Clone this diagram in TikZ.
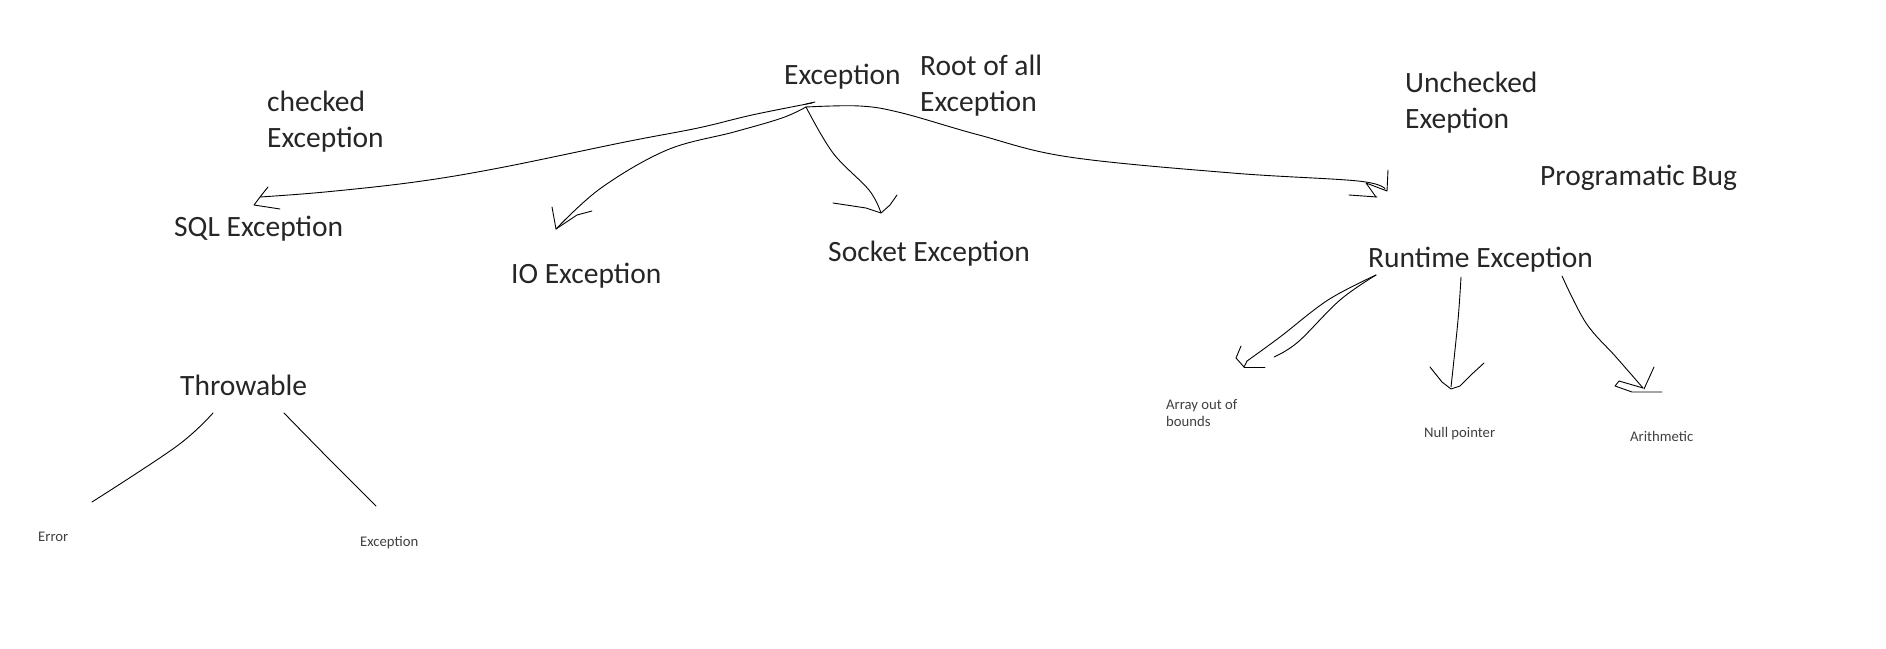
\documentclass[tikz,border=0pt]{standalone}
\usepackage{fontspec}
\setmainfont{Carlito}
\begin{document}
\begin{tikzpicture}[x=1pt,y=-1pt,
  big/.style={inner sep=0pt, anchor=base west, font=\fontsize{29.5}{36}\selectfont, text=black!85},
  small/.style={inner sep=0pt, anchor=base west, font=\fontsize{14.7}{17}\selectfont, text=black!75},
  hand/.style={line width=0.9pt, line cap=round, line join=round}]
\useasboundingbox[fill=white] (0,0) rectangle (1886,648);
% texts (multi-line nodes: base = last line)
\node[big] (exc) at (784,84) {Exception};
\node[big,align=left] (root) at (920,111) {Root of all\\Exception};
\node[big,align=left] (checked) at (267,147) {checked\\Exception};
\node[big,align=left] (unchecked) at (1405,128) {Unchecked\\Exeption};
\node[big] (bug) at (1540,185) {Programatic Bug};
\node[big] (sql) at (174,236) {SQL Exception};
\node[big] (io) at (511,283) {IO Exception};
\node[big] (socket) at (828,261) {Socket Exception};
\node[big] (runtime) at (1368,267) {Runtime Exception};
\node[big] (throw) at (180,395) {Throwable};
\node[small] (error) at (38,541) {Error};
\node[small] (exc2) at (360,546) {Exception};
\node[small,align=left] (array) at (1166,426) {Array out of\\bounds};
\node[small] (null) at (1424,437) {Null pointer};
\node[small] (arith) at (1630,441) {Arithmetic};
% connector ends
\coordinate (e0) at (806,107);
\coordinate (e1) at (812,103);
\coordinate (sqltip) at (260,197);
\coordinate (iotip) at (556,229);
\coordinate (socktip) at (881,213);
\coordinate (rttip) at (1385,189);
\coordinate (r1) at (1376,275);
\coordinate (arrtip) at (1247,361);
\coordinate (arrtip2) at (1274,357);
\coordinate (r2) at (1461,277);
\coordinate (nulltip) at (1451,387);
\coordinate (r3) at (1562,276);
\coordinate (arithtip) at (1643,388);
\coordinate (t1) at (213,413);
\coordinate (errtip) at (92,502);
\coordinate (t2) at (284,413);
\coordinate (exctip) at (376,506);
% Exception -> SQL
\draw[hand] plot[smooth,tension=0.6] coordinates {(e1) (752,115) (698,128) (625,142) (499,168) (415,182) (325,192) (sqltip)};
\draw[hand] (268,187) -- (sqltip) -- (254,205) -- (280,209);
\draw[hand] (806,104) -- (815,102);
% Exception -> IO
\draw[hand] plot[smooth,tension=0.6] coordinates {(e0) (782,118) (734,132) (667,150) (601,188) (iotip)};
\draw[hand] (552,207) -- (iotip) -- (577,215) -- (592,211);
% Exception -> Socket
\draw[hand] plot[smooth,tension=0.6] coordinates {(e0) (833,153) (869,190) (socktip)};
\draw[hand] (833,203) -- (866,208) -- (socktip) -- (890,205) -- (897,195);
% Exception -> Runtime (unchecked)
\draw[hand] plot[smooth,tension=0.6] coordinates {(e0) (860,106) (902,113) (979,135) (1069,157) (1232,173) (1358,181) (rttip)};
\draw[hand] (1388,170) -- (1387,191) -- (1366,183) -- (1376,197);
\draw[hand] (1349,195) -- (1377,197);
% Runtime -> Array
\draw[hand] plot[smooth,tension=0.6] coordinates {(r1) (1328,300) (1280,337) (arrtip)};
\draw[hand] plot[smooth,tension=0.6] coordinates {(r1) (1340,300) (1298,342) (arrtip2)};
\draw[hand] (1241,346) -- (1236,358) -- (1244,367) -- (arrtip);
\draw[hand] (1244,367) -- (1265,367);
% Runtime -> Null pointer
\draw[hand] plot[smooth,tension=0.6] coordinates {(r2) (1458,320) (nulltip)};
\draw[hand] (1430,367) -- (1442,382) -- (1451,389) -- (1460,386) -- (1472,374) -- (1484,363);
% Runtime -> Arithmetic
\draw[hand] plot[smooth,tension=0.6] coordinates {(r3) (1586,323) (1616,357) (arithtip)};
\draw[hand] (1654,367) -- (1644,389);
\draw[hand] (arithtip) -- (1619,381) -- (1615,386) -- (1632,392) -- (1662,392);
% Throwable
\draw[hand] plot[smooth,tension=0.6] coordinates {(t1) (177,446) (errtip)};
\draw[hand] plot[smooth,tension=0.6] coordinates {(t2) (331,461) (exctip)};
\end{tikzpicture}
\end{document}
